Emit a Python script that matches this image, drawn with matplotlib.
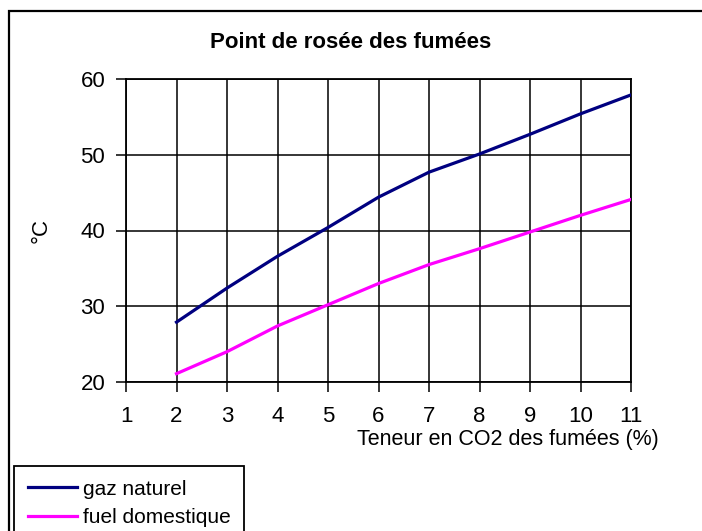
from matplotlib import pyplot as plt
from matplotlib.patches import Rectangle

plt.rcParams['font.family'] = ['Liberation Sans', 'DejaVu Sans']

# CO2 content of flue gases (%)
co2 = [2, 3, 4, 5, 6, 7, 8, 9, 10, 11]
# dew point (°C)
gaz_naturel = [27.9, 32.4, 36.6, 40.4, 44.4, 47.7, 50.1, 52.7, 55.4, 57.9]
fuel_domestique = [21.1, 24.0, 27.4, 30.2, 33.0, 35.5, 37.6, 39.8, 42.0, 44.1]
series_names = ["gaz naturel", "fuel domestique"]
x_ticks = list(range(1, 12))
y_ticks = [20, 30, 40, 50, 60]

W, H = 702, 531
fig = plt.figure(figsize=(W / 100, H / 100), dpi=100)
ax = fig.add_axes([126 / W, 1 - 382 / H, 505 / W, 303 / H])

ax.plot(co2, gaz_naturel, color="#000080", lw=2.3, label=series_names[0], zorder=3)
ax.plot(co2, fuel_domestique, color="#FF00FF", lw=2.3, label=series_names[1], zorder=3)

ax.set_xlim(1, 11)
ax.set_ylim(20, 60)
ax.set_xticks(x_ticks)
ax.set_yticks(y_ticks)
ax.grid(True, color="black", lw=1.1)
for s in ax.spines.values():
    s.set_color("black")
    s.set_linewidth(1.3)
ax.tick_params(direction="out", length=7, width=1.1, labelsize=16)
ax.tick_params(axis="x", pad=10)
ax.tick_params(axis="y", pad=8)

ax.set_ylabel("°C", fontsize=16)
ax.yaxis.set_label_coords((52 - 126) / 505, 0.5)
ax.set_xlabel("Teneur en CO2 des fumées (%)", fontsize=15.5)
ax.xaxis.set_label_coords((508 - 126) / 505, (382 - 429) / 303)

fig.text(0.5, 1 - 43 / H, "Point de rosée des fumées", ha="center", va="center",
         fontsize=16, fontweight="bold")

# outer chart border (runs off the right and bottom edges)
fig.patches.append(Rectangle((9 / W, -0.05), 1.1, 1 - 11 / H + 0.05,
                             transform=fig.transFigure, fill=False,
                             edgecolor="black", lw=1.6, clip_on=False))

leg = fig.legend(loc="upper left", bbox_to_anchor=(14 / W, 1 - 466 / H),
                 borderaxespad=0, fancybox=False, edgecolor="black",
                 framealpha=1, fontsize=15, handlelength=2.35,
                 handletextpad=0.3, borderpad=0.65, labelspacing=0.45)
leg.get_frame().set_linewidth(1.3)

fig.savefig("out.png", dpi=100)
